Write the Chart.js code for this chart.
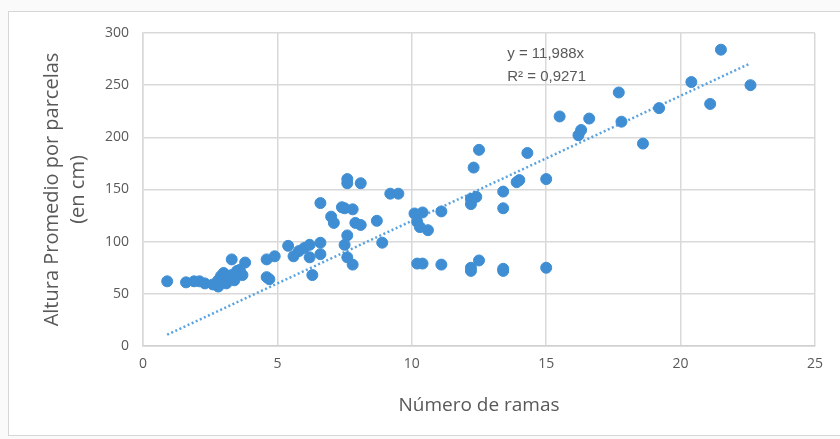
<!DOCTYPE html>
<html><head><meta charset="utf-8">
<script src="https://cdn.jsdelivr.net/npm/chart.js@4/dist/chart.umd.min.js"></script>
<style>
html,body{margin:0;padding:0;background:#fafafa;}
#wrap{position:absolute;left:0;top:0;width:840px;height:439px;}
#frame{position:absolute;left:8px;top:11px;width:840px;height:423px;border:1.5px solid #d6d6d6;background:#fff;}
canvas{position:absolute;left:0;top:0;}
</style></head>
<body>
<div id="wrap"><div id="frame"></div><canvas id="c" width="840" height="439"></canvas></div>
<script>
const ramas = [0.9,1.6,1.9,2.1,2.3,2.6,2.8,2.8,2.9,3.0,3.0,3.1,3.2,3.3,3.3,3.4,3.5,3.6,3.7,3.8,
  4.6,4.7,4.6,4.9,5.4,5.6,5.8,6.0,6.2,6.2,6.3,6.6,6.6,6.6,7.0,7.1,7.4,7.5,7.5,7.6,7.6,7.6,7.6,7.8,7.8,7.9,8.1,8.1,
  8.7,8.9,9.2,9.5,10.1,10.2,10.3,10.4,10.6,10.2,10.4,11.1,11.1,12.2,12.2,12.4,12.3,12.5,12.2,12.2,12.5,
  13.4,13.4,13.4,13.4,13.9,14.0,14.3,15.0,15.0,15.5,16.2,16.3,16.6,17.7,17.8,18.6,19.2,20.4,21.1,21.5,22.6];
const altura = [62,61,62,62,60,59,57,63,67,70,62,60,65,68,83,63,72,73,68,80,
  66,64,83,86,96,86,91,94,97,85,68,99,88,137,124,118,133,97,132,156,160,106,85,78,131,118,116,156,
  120,99,146,146,127,119,114,128,111,79,79,129,78,136,141,143,171,188,75,72,82,
  132,148,74,72,157,159,185,160,75,220,202,207,218,243,215,194,228,253,232,284,250];
const trendX = [0.9, 22.6];
const trendY = [10.8, 271];
const xTicks = [0,5,10,15,20,25];
const yTicks = [0,50,100,150,200,250,300];
const eqLines = ["y = 11,988x", "R\u00b2 = 0,9271"];
const xTitle = "N\u00famero de ramas";
const yTitle = ["Altura Promedio por parcelas", "(en cm)"];

const pts = ramas.map((x,i)=>({x:x,y:altura[i]}));
const trend = trendX.map((x,i)=>({x:x,y:trendY[i]}));

const eqPlugin = {
  id:'eq',
  afterDatasetsDraw(chart){
    const {ctx, scales} = chart;
    ctx.save();
    ctx.fillStyle = '#595959';
    ctx.font = '15px "Liberation Sans Narrow", "Liberation Sans", sans-serif';
    ctx.textBaseline = 'middle';
    ctx.textAlign = 'left';
    const x0 = scales.x.getPixelForValue(13.55);
    ctx.fillText(eqLines[0], x0, scales.y.getPixelForValue(280));
    ctx.fillText(eqLines[1], x0, scales.y.getPixelForValue(258));
    ctx.restore();
  }
};

const font = {family:'"Open Sans", "Liberation Sans", sans-serif', size:14};
new Chart(document.getElementById('c'), {
  type:'scatter',
  data:{datasets:[
    {data:trend, type:'line', showLine:true, borderColor:'#5aa3df', borderWidth:2.5, borderDash:[2,2.5], pointRadius:0, fill:false, order:2},
    {data:pts, backgroundColor:'#3f8ed3', borderColor:'#3f8ed3', pointRadius:5.5, pointHoverRadius:5.5, order:1}
  ]},
  options:{
    responsive:false, animation:false, devicePixelRatio:1,
    layout:{padding:{left:30,right:25,top:33,bottom:15}},
    plugins:{legend:{display:false}, tooltip:{enabled:false}},
    scales:{
      x:{type:'linear', min:0, max:25,
        afterBuildTicks(s){ s.ticks = xTicks.map(v=>({value:v})); },
        afterFit(s){ s.height = 78; },
        grid:{color:'#d9d9d9', lineWidth:1.5, drawTicks:false},
        border:{color:'#d0d0d0', width:1.5},
        ticks:{color:'#595959', font:font, padding:10, maxRotation:0},
        title:{display:true, text:xTitle, color:'#595959', font:{family:font.family,size:19}, padding:{top:0,bottom:7}}
      },
      y:{type:'linear', min:0, max:300,
        afterBuildTicks(s){ s.ticks = yTicks.map(v=>({value:v})); },
        afterFit(s){ s.width = 113; },
        grid:{color:'#d9d9d9', lineWidth:1.5, drawTicks:false},
        border:{color:'#d9d9d9', width:1.5},
        ticks:{color:'#595959', font:font, padding:14},
        title:{display:true, text:yTitle, color:'#595959', font:{family:font.family,size:20,lineHeight:1.3}, padding:{top:9,bottom:0}}
      }
    }
  },
  plugins:[eqPlugin]
});
</script>
</body></html>
